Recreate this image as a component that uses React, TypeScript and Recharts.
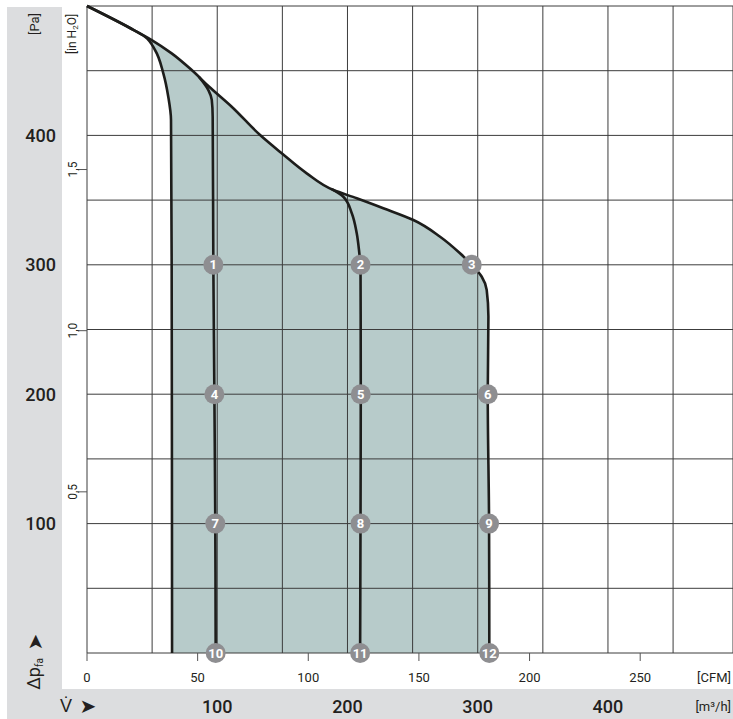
import React from "react";
import { ComposedChart, Line, Area, XAxis, YAxis, CartesianGrid } from "recharts";

// axes: static pressure in Pa (left) and in inH2O, air flow in m³/h (bottom) and CFM
const paTicks = [0, 50, 100, 150, 200, 250, 300, 350, 400, 450, 500];
const paLabels = [100, 200, 300, 400];
const flowTicks = [0, 50, 100, 150, 200, 250, 300, 350, 400, 450];
const flowLabels = [100, 200, 300, 400];
const cfmTicks = [0, 50, 100, 150, 200, 250];
const inh2oTicks = [0.5, 1, 1.5];

// unit conversions
const M3H_PER_CFM = 1.699;
const PA_PER_INH2O = 249.09;
const FLOW_MAX = 496;
const PA_MAX = 500;

// fan curves (pa -> flow m³/h), top to bottom
const curve3 = [
  { pa: 500, flow: 0 },
  { pa: 483, flow: 33 },
  { pa: 473.7, flow: 49.7 },
  { pa: 463.4, flow: 65 },
  { pa: 450.5, flow: 80.4 },
  { pa: 437.6, flow: 93.8 },
  { pa: 422.2, flow: 111.1 },
  { pa: 400.3, flow: 132.9 },
  { pa: 386.2, flow: 149.5 },
  { pa: 370.7, flow: 168.7 },
  { pa: 357.8, flow: 189.2 },
  { pa: 351.4, flow: 207.1 },
  { pa: 343.7, flow: 227.5 },
  { pa: 334.6, flow: 250.6 },
  { pa: 321.7, flow: 271.1 },
  { pa: 308.9, flow: 286.4 },
  { pa: 300, flow: 295.4 },
  { pa: 290.8, flow: 303.1 },
  { pa: 280.5, flow: 306.9 },
  { pa: 260, flow: 308.2 },
  { pa: 200, flow: 307.7 },
  { pa: 100, flow: 308.7 },
  { pa: 0, flow: 308.9 },
];

const leftLimit = [
  { pa: 500, flow: 0 },
  { pa: 483, flow: 33 },
  { pa: 476.3, flow: 44.5 },
  { pa: 466, flow: 52.2 },
  { pa: 448, flow: 58.6 },
  { pa: 429.9, flow: 62.4 },
  { pa: 411.9, flow: 64.5 },
  { pa: 300, flow: 65 },
  { pa: 150, flow: 65.2 },
  { pa: 0, flow: 65.3 },
];

const curve1 = [
  { pa: 445.4, flow: 85.8 },
  { pa: 435, flow: 93.2 },
  { pa: 427.4, flow: 95.8 },
  { pa: 414.5, flow: 96.5 },
  { pa: 300, flow: 97 },
  { pa: 200, flow: 97.8 },
  { pa: 100, flow: 98.5 },
  { pa: 0, flow: 98.8 },
];

const curve2 = [
  { pa: 358.5, flow: 188 },
  { pa: 352.6, flow: 196.8 },
  { pa: 339.8, flow: 203.3 },
  { pa: 324.4, flow: 207.1 },
  { pa: 308.9, flow: 209.1 },
  { pa: 300, flow: 210 },
  { pa: 200, flow: 210.2 },
  { pa: 100, flow: 210 },
  { pa: 0, flow: 209.7 },
];

const markers = [
  { n: 1, pa: 300, flow: 97 },
  { n: 2, pa: 300, flow: 210 },
  { n: 3, pa: 300, flow: 295.4 },
  { n: 4, pa: 200, flow: 97.8 },
  { n: 5, pa: 200, flow: 210.2 },
  { n: 6, pa: 200, flow: 307.7 },
  { n: 7, pa: 100, flow: 98.5 },
  { n: 8, pa: 100, flow: 210 },
  { n: 9, pa: 100, flow: 308.7 },
  { n: 10, pa: 0, flow: 98.8 },
  { n: 11, pa: 0, flow: 209.7 },
  { n: 12, pa: 0, flow: 308.9 },
];

// the inH2O axis gets no curve of its own, so it is fed its tick values
const inh2oData = inh2oTicks.map((v) => ({ inh: v }));

const FONT = 'Roboto, "Liberation Sans", sans-serif';
const TXT = "#231f20";
const PLOT_LEFT = 87;
const PLOT_BOTTOM = 653;

const PaTick = (props: any) => {
  const { y, payload } = props;
  if (!paLabels.includes(payload.value)) return <g />;
  return (
    <text x={56} y={y + 6.5} textAnchor="end" fontSize={18} fontWeight={500} fontFamily={FONT} fill={TXT}>
      {payload.value}
    </text>
  );
};

const InTick = (props: any) => {
  const { y, payload } = props;
  return (
    <g>
      <line x1={PLOT_LEFT - 9} x2={PLOT_LEFT} y1={y} y2={y} stroke="#555" strokeWidth={1} />
      <text
        transform={`translate(72 ${y}) rotate(-90)`}
        dy={4.5}
        textAnchor="middle"
        fontSize={12}
        fontFamily={FONT}
        fill={TXT}
      >
        {payload.value.toFixed(1).replace(".", ",")}
      </text>
    </g>
  );
};

const CfmTick = (props: any) => {
  const { x, payload } = props;
  return (
    <g>
      <line x1={x} x2={x} y1={PLOT_BOTTOM} y2={PLOT_BOTTOM + 8} stroke="#555" strokeWidth={1} />
      <text x={x} y={682} textAnchor="middle" fontSize={13} fontFamily={FONT} fill={TXT}>
        {payload.value}
      </text>
    </g>
  );
};

const FlowTick = (props: any) => {
  const { x, payload } = props;
  if (!flowLabels.includes(payload.value)) return <g />;
  return (
    <text x={x} y={712.5} textAnchor="middle" fontSize={18} fontWeight={500} fontFamily={FONT} fill={TXT}>
      {payload.value}
    </text>
  );
};

const paLabel = () => (
  <g fontFamily={FONT} fill={TXT}>
    <text transform="translate(39 24) rotate(-90)" textAnchor="middle" fontSize={13}>
      [Pa]
    </text>
    <text transform="translate(40 674) rotate(-90)" textAnchor="middle" fontSize={18}>
      Δp
      <tspan fontSize={10} dy={3}>
        fa
      </tspan>
    </text>
    <text transform="translate(35 642) rotate(-90)" textAnchor="middle" dy={7} fontSize={20} fontFamily="DejaVu Sans">
      ➤
    </text>
  </g>
);

const inLabel = () => (
  <text transform="translate(76 34) rotate(-90)" textAnchor="middle" fontSize={12} fontFamily={FONT} fill={TXT}>
    [in H
    <tspan fontSize={8} dy={2}>
      2
    </tspan>
    <tspan dy={-2}>O]</tspan>
  </text>
);

const cfmLabel = () => (
  <text x={731} y={682} textAnchor="end" fontSize={13} fontFamily={FONT} fill={TXT}>
    [CFM]
  </text>
);

const flowLabel = () => (
  <g fontFamily={FONT} fill={TXT}>
    <text x={66} y={712} textAnchor="middle" fontSize={18}>
      V̇
    </text>
    <text x={88} y={713} textAnchor="middle" fontSize={20} fontFamily="DejaVu Sans">
      ➤
    </text>
    <text x={731} y={711} textAnchor="end" fontSize={13}>
      [m³/h]
    </text>
  </g>
);

const MarkerDot = (props: any) => {
  const { cx, cy, payload, index } = props;
  if (cx == null || cy == null) return <g key={`mk-${index}`} />;
  return (
    <g key={`mk-${index}`}>
      <circle cx={cx} cy={cy} r={10} fill="#8e8e91" />
      <text x={cx} y={cy + 4.5} textAnchor="middle" fontSize={13} fontWeight={700} fontFamily={FONT} fill="#fff">
        {payload.n}
      </text>
    </g>
  );
};

export default function App() {
  return (
    <div style={{ position: "absolute", left: 0, top: 0, width: 733, height: 719, background: "#fff" }}>
      <div style={{ position: "absolute", left: 7, top: 7, width: 55, height: 682, background: "#dcdddf" }} />
      <div style={{ position: "absolute", left: 7, top: 689, width: 726, height: 30, background: "#dcdddf" }} />
      <div style={{ position: "absolute", left: 0, top: 0 }}>
        <ComposedChart width={733} height={719} layout="vertical" margin={{ top: 6, right: 0, bottom: 0, left: 0 }}>
          <XAxis
            type="number"
            domain={[0, FLOW_MAX]}
            ticks={flowTicks}
            interval={0}
            height={30}
            axisLine={false}
            tickLine={false}
            tick={FlowTick}
            label={flowLabel}
          />
          <XAxis
            xAxisId="cfm"
            type="number"
            domain={[0, FLOW_MAX / M3H_PER_CFM]}
            allowDataOverflow
            ticks={cfmTicks}
            interval={0}
            height={36}
            axisLine={false}
            tickLine={false}
            tick={CfmTick}
            label={cfmLabel}
          />
          <YAxis
            type="number"
            dataKey="pa"
            reversed
            domain={[0, PA_MAX]}
            ticks={paTicks}
            interval={0}
            width={62}
            axisLine={false}
            tickLine={false}
            tick={PaTick}
            label={paLabel}
          />
          <YAxis
            yAxisId="inh"
            type="number"
            dataKey="inh"
            reversed
            domain={[0, PA_MAX / PA_PER_INH2O]}
            allowDataOverflow
            ticks={inh2oTicks}
            interval={0}
            width={25}
            axisLine={false}
            tickLine={false}
            tick={InTick}
            label={inLabel}
          />

          {/* operating range: fill under the top curve, blank left of the min-flow line */}
          <Area data={curve3} dataKey="flow" type="monotone" fill="#b7cbca" fillOpacity={1} stroke="none" isAnimationActive={false} />
          <Area data={leftLimit} dataKey="flow" type="monotone" fill="#ffffff" fillOpacity={1} stroke="none" isAnimationActive={false} />

          <CartesianGrid stroke="#3c3c3c" strokeWidth={1} zIndex={200} />

          <Line data={leftLimit} dataKey="flow" type="monotone" stroke="#1d1d1b" strokeWidth={2.6} dot={false} isAnimationActive={false} />
          <Line data={curve1} dataKey="flow" type="monotone" stroke="#1d1d1b" strokeWidth={2.6} dot={false} isAnimationActive={false} />
          <Line data={curve2} dataKey="flow" type="monotone" stroke="#1d1d1b" strokeWidth={2.6} dot={false} isAnimationActive={false} />
          <Line data={curve3} dataKey="flow" type="monotone" stroke="#1d1d1b" strokeWidth={2.6} dot={false} isAnimationActive={false} />
          <Line data={markers} dataKey="flow" stroke="none" dot={MarkerDot} activeDot={false} isAnimationActive={false} />
          <Line yAxisId="inh" data={inh2oData} dataKey="flow" stroke="none" dot={false} activeDot={false} isAnimationActive={false} />
        </ComposedChart>
      </div>
    </div>
  );
}
